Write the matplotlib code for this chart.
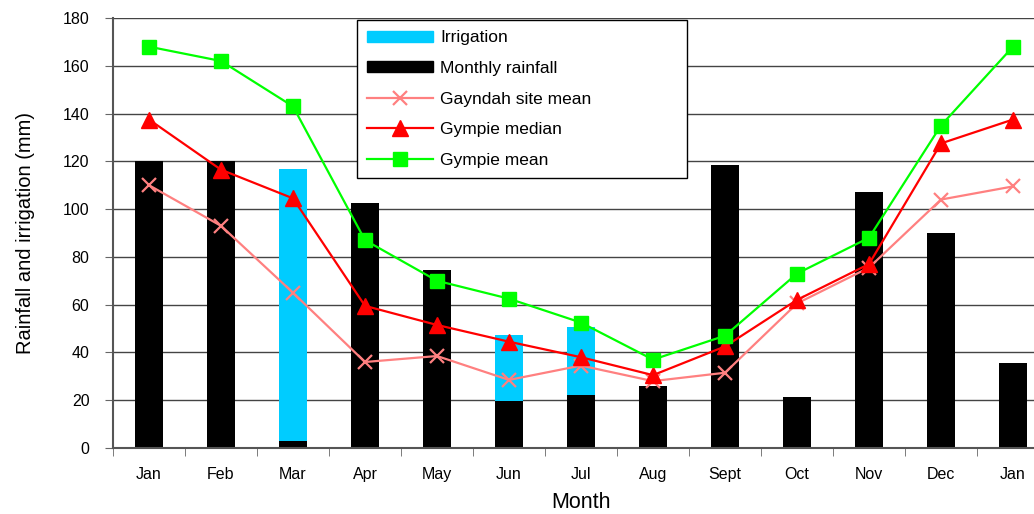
import numpy as np
import matplotlib.pyplot as plt
from matplotlib.patches import Patch
from matplotlib.lines import Line2D

plt.rcParams['font.family'] = ['Liberation Sans', 'DejaVu Sans']

months = ['Jan', 'Feb', 'Mar', 'Apr', 'May', 'Jun', 'Jul', 'Aug', 'Sept', 'Oct', 'Nov', 'Dec', 'Jan']
rainfall = [120, 120, 3, 102.5, 74.5, 19.5, 22, 26, 118.5, 21.5, 107, 90, 35.5]
irrigation = [0, 0, 114, 0, 0, 28, 28.5, 0, 0, 0, 0, 0, 0]
gayndah_mean = [110, 93, 65, 36, 38.5, 28.5, 34.5, 28, 31.5, 60.5, 75.5, 104, 109.5]
gympie_median = [137.5, 116.5, 104.5, 59.5, 51.5, 44.5, 38, 30.5, 42.5, 62, 77, 127.5, 137.5]
gympie_mean = [168, 162, 143, 87, 70, 62.5, 52.5, 37, 47, 73, 88, 135, 168]

x = np.arange(len(months))

fig = plt.figure(figsize=(10.34, 5.14), dpi=100)
ax = fig.add_axes([113 / 1034, 66 / 514, 936 / 1034, 430 / 514])

ax.bar(x, rainfall, width=0.4, color='black', zorder=2)
ax.bar(x, irrigation, width=0.4, bottom=rainfall, color='#00CCFF', zorder=2)

ax.plot(x, gayndah_mean, color='#FF8080', lw=1.6, marker='x', ms=10, mew=1.6, zorder=3)
ax.plot(x, gympie_median, color='#FF0000', lw=1.6, marker='^', ms=11, zorder=4)
ax.plot(x, gympie_mean, color='#00FF00', lw=1.6, marker='s', ms=10, zorder=5)

ax.set_xlim(-0.5, 12.5)
ax.set_ylim(0, 180)
ax.set_yticks(range(0, 181, 20))
ax.yaxis.grid(True, color='#444444', lw=1)
ax.set_axisbelow(True)

ax.set_xticks(x)
ax.set_xticklabels(months, fontsize=11.5)
ax.tick_params(axis='x', length=0, pad=14)
ax.set_xticks(np.arange(-0.5, 13, 1), minor=True)
ax.tick_params(axis='x', which='minor', length=6, color='#666666')
ax.tick_params(axis='y', labelsize=11.5, length=6, color='#666666', pad=11)

for s in ['top', 'right']:
    ax.spines[s].set_visible(False)
ax.spines['left'].set_color('#555555')
ax.spines['left'].set_linewidth(1.5)
ax.spines['bottom'].set_color('#555555')
ax.spines['bottom'].set_linewidth(1.5)

ax.set_ylabel('Rainfall and irrigation (mm)', fontsize=14.5, labelpad=20)
ax.set_xlabel('Month', fontsize=15.5, labelpad=7)

handles = [
    Patch(color='#00CCFF'),
    Patch(color='black'),
    Line2D([], [], color='#FF8080', lw=1.6, marker='x', ms=10, mew=1.6),
    Line2D([], [], color='#FF0000', lw=1.6, marker='^', ms=11),
    Line2D([], [], color='#00FF00', lw=1.6, marker='s', ms=10),
]
labels = ['Irrigation', 'Monthly rainfall', 'Gayndah site mean', 'Gympie median', 'Gympie mean']
leg = ax.legend(handles, labels, loc='upper left', mode='expand',
                bbox_to_anchor=(244 / 936, 1 - 2 / 430, 330 / 936, 0.0),
                borderaxespad=0, fontsize=12.5, frameon=True, fancybox=False,
                framealpha=1, edgecolor='black', handlelength=3.8,
                handleheight=0.6, handletextpad=0.4, labelspacing=0.9,
                borderpad=0.6)
leg.get_frame().set_linewidth(1)
leg.set_zorder(10)

plt.savefig('out.png', dpi=100)
